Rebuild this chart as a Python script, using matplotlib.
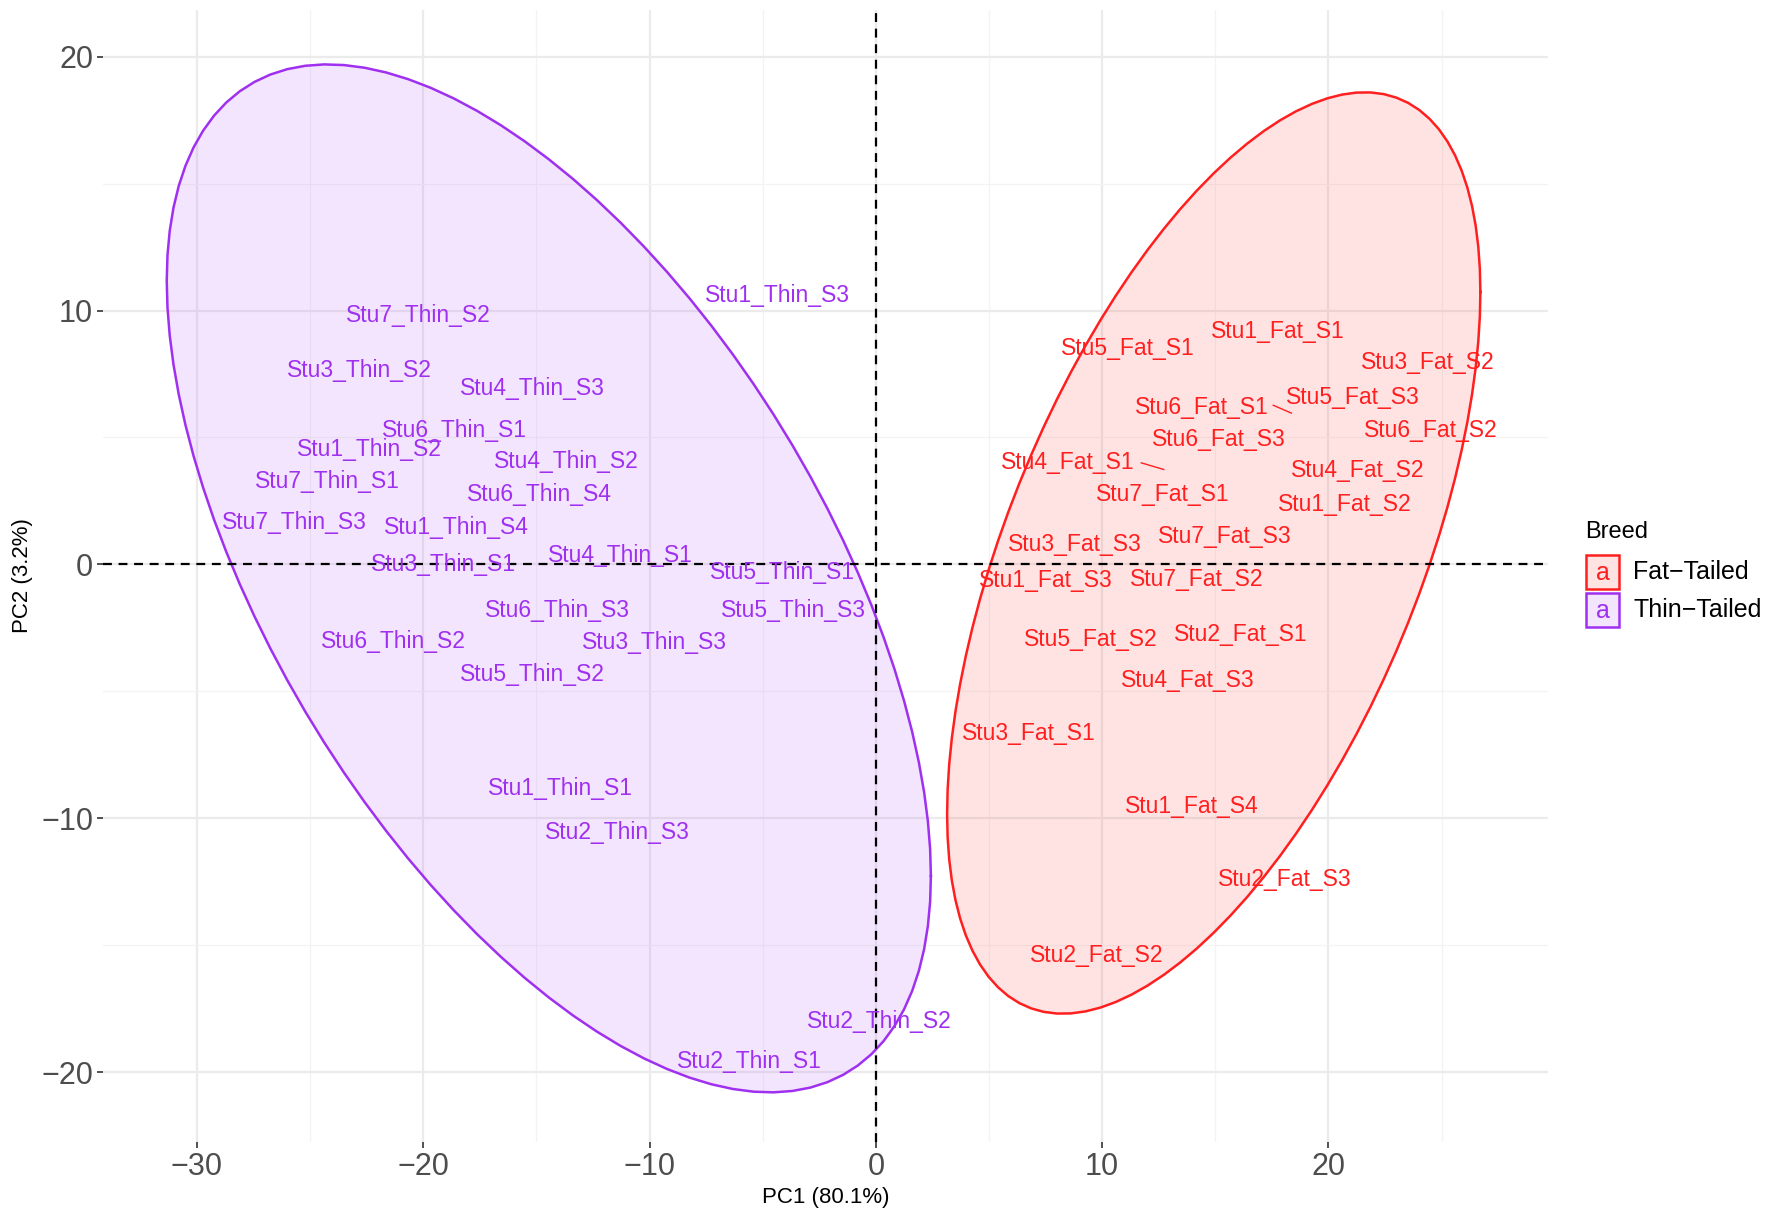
import numpy as np
import matplotlib.pyplot as plt
from matplotlib.patches import Rectangle

plt.rcParams['font.family'] = ['Liberation Sans', 'DejaVu Sans']

# sample labels and their positions on PC1 / PC2
thin_names = [
    "Stu1_Thin_S3", "Stu7_Thin_S2", "Stu3_Thin_S2", "Stu4_Thin_S3", "Stu6_Thin_S1",
    "Stu1_Thin_S2", "Stu4_Thin_S2", "Stu7_Thin_S1", "Stu6_Thin_S4", "Stu7_Thin_S3",
    "Stu1_Thin_S4", "Stu3_Thin_S1", "Stu4_Thin_S1", "Stu5_Thin_S1", "Stu6_Thin_S3",
    "Stu5_Thin_S3", "Stu6_Thin_S2", "Stu3_Thin_S3", "Stu5_Thin_S2", "Stu1_Thin_S1",
    "Stu2_Thin_S3", "Stu2_Thin_S2", "Stu2_Thin_S1",
]
thin_pc1 = [-4.34, -20.21, -22.80, -15.17, -18.61, -22.36, -13.67, -24.25, -14.87, -25.70,
            -18.51, -19.11, -11.28, -4.14, -14.07, -3.64, -21.31, -9.78, -15.17, -13.92,
            -11.43, 0.15, -5.59]
thin_pc2 = [10.59, 9.79, 7.65, 6.94, 5.29, 4.54, 4.05, 3.25, 2.76, 1.65,
            1.47, 0.0, 0.36, -0.31, -1.82, -1.82, -3.03, -3.07, -4.32, -8.81,
            -10.55, -18.02, -19.58]

fat_names = [
    "Stu1_Fat_S1", "Stu5_Fat_S1", "Stu3_Fat_S2", "Stu6_Fat_S1", "Stu5_Fat_S3",
    "Stu6_Fat_S2", "Stu6_Fat_S3", "Stu4_Fat_S1", "Stu4_Fat_S2", "Stu7_Fat_S1",
    "Stu1_Fat_S2", "Stu3_Fat_S3", "Stu7_Fat_S3", "Stu1_Fat_S3", "Stu7_Fat_S2",
    "Stu5_Fat_S2", "Stu2_Fat_S1", "Stu4_Fat_S3", "Stu3_Fat_S1", "Stu1_Fat_S4",
    "Stu2_Fat_S3", "Stu2_Fat_S2",
]
fat_pc1 = [17.76, 11.13, 24.40, 14.42, 21.06, 24.50, 15.17, 8.48, 21.31, 12.67,
           20.71, 8.78, 15.42, 7.53, 14.17, 9.48, 16.12, 13.77, 6.74, 13.97,
           18.06, 9.78]
fat_pc2 = [9.17, 8.50, 7.96, 6.18, 6.59, 5.29, 4.94, 4.00, 3.69, 2.76,
           2.36, 0.80, 1.11, -0.62, -0.58, -2.94, -2.76, -4.58, -6.67, -9.52,
           -12.41, -15.39]

# repel segments (label edge -> point)
seg_x0 = [17.56, 11.73]
seg_y0 = [6.27, 4.00]
seg_x1 = [18.36, 12.72]
seg_y1 = [5.96, 3.74]

# 95% ellipses: centre and covariance-like shape matrix
thin_centre = [-14.45, -0.55]
thin_shape = [[285.0, -197.9], [-197.9, 410.0]]
fat_centre = [14.93, 0.45]
fat_shape = [[138.8, 121.1], [121.1, 329.4]]

legend_labels = ["Fat\u2212Tailed", "Thin\u2212Tailed"]

red = "#FF1F1F"
purple = "#A030F0"


def ellipse_points(centre, shape, n=101):
    t = np.linspace(0, 2 * np.pi, n)
    a = np.linalg.cholesky(np.array(shape))
    pts = a @ np.vstack([np.cos(t), np.sin(t)])
    return centre[0] + pts[0], centre[1] + pts[1]


fig = plt.figure(figsize=(17.72, 12.2), dpi=100)
ax = fig.add_axes([0.0581, 0.064, 0.8155, 0.928])

# grid
for v in [-30, -20, -10, 0, 10, 20]:
    ax.axvline(v, color="#EBEBEB", lw=1.6, zorder=0)
for v in [-25, -15, -5, 5, 15, 25]:
    ax.axvline(v, color="#F3F3F3", lw=0.9, zorder=0)
for v in [-20, -10, 0, 10, 20]:
    ax.axhline(v, color="#EBEBEB", lw=1.6, zorder=0)
for v in [-15, -5, 5, 15]:
    ax.axhline(v, color="#F3F3F3", lw=0.9, zorder=0)

# ellipses
ex, ey = ellipse_points(thin_centre, thin_shape)
ax.fill(ex, ey, color=purple, alpha=0.12, lw=0, zorder=1)
ax.plot(ex, ey, color=purple, lw=1.8, zorder=2)
ex, ey = ellipse_points(fat_centre, fat_shape)
ax.fill(ex, ey, color=red, alpha=0.12, lw=0, zorder=1)
ax.plot(ex, ey, color=red, lw=1.8, zorder=2)

ax.axhline(0, color="black", lw=1.6, ls=(0, (4, 3)), zorder=3)
ax.axvline(0, color="black", lw=1.6, ls=(0, (4, 3)), zorder=3)

for name, x, y in zip(thin_names, thin_pc1, thin_pc2):
    ax.text(x, y, name, color=purple, fontsize=16.5, ha="center", va="center", zorder=4)
for name, x, y in zip(fat_names, fat_pc1, fat_pc2):
    ax.text(x, y, name, color=red, fontsize=16.5, ha="center", va="center", zorder=4)
for x0, y0, x1, y1 in zip(seg_x0, seg_y0, seg_x1, seg_y1):
    ax.plot([x0, x1], [y0, y1], color=red, lw=1.0, zorder=4)

ax.set_xlim(-34.15, 29.7)
ax.set_ylim(-22.75, 21.85)
ax.set_xticks([-30, -20, -10, 0, 10, 20])
ax.set_yticks([-20, -10, 0, 10, 20])
ax.tick_params(length=4, width=1.2, color="#333333", labelcolor="#4D4D4D",
               labelsize=22, pad=3)
for s in ax.spines.values():
    s.set_visible(False)
ax.set_xlabel("PC1 (80.1%)", fontsize=16, labelpad=4)
ax.set_ylabel("PC2 (3.2%)", fontsize=16, labelpad=6)

# legend
fig.text(1585 / 1772, 1 - 532 / 1220, "Breed", fontsize=17, va="center", ha="left")
for i, (lab, col) in enumerate(zip(legend_labels, [red, purple])):
    y0 = 1 - (589 + 38 * i) / 1220
    fig.patches.append(Rectangle((1586 / 1772, y0), 33 / 1772, 34 / 1220,
                                 transform=fig.transFigure, facecolor=col, alpha=0.12,
                                 edgecolor="none"))
    fig.patches.append(Rectangle((1586 / 1772, y0), 33 / 1772, 34 / 1220,
                                 transform=fig.transFigure, facecolor="none",
                                 edgecolor=col, lw=1.8))
    fig.text(1602.5 / 1772, y0 + 16 / 1220, "a", color=col, fontsize=18,
             ha="center", va="center")
    fig.text(1633 / 1772, y0 + 17 / 1220, lab, fontsize=18, ha="left", va="center")

fig.savefig("out.png", dpi=100)
